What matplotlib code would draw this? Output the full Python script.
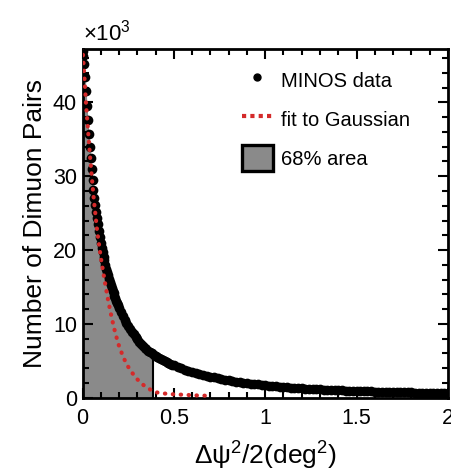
import matplotlib
matplotlib.use("Agg")
import matplotlib.pyplot as plt
from matplotlib.lines import Line2D
from matplotlib.patches import Patch


# dimuon pair counts (in thousands) per bin of dpsi^2/2 (deg^2)
x_data = [0.000, 0.005, 0.010, 0.015, 0.020, 0.025, 0.030, 0.035, 0.040,
          0.045, 0.050, 0.055, 0.060, 0.065, 0.070, 0.075, 0.080, 0.085,
          0.090, 0.095, 0.100, 0.105, 0.110, 0.115, 0.120, 0.125, 0.130,
          0.135, 0.140, 0.145, 0.150, 0.155, 0.160, 0.165, 0.170, 0.175,
          0.180, 0.185, 0.190, 0.195, 0.200,
          0.21, 0.22, 0.23, 0.24, 0.25, 0.26, 0.27, 0.28, 0.29,
          0.30, 0.31, 0.32, 0.33, 0.34, 0.35, 0.36, 0.37, 0.38, 0.39,
          0.40, 0.41, 0.42, 0.43, 0.44, 0.45, 0.46, 0.47, 0.48, 0.49,
          0.50, 0.52, 0.54, 0.56, 0.58, 0.60, 0.62, 0.64, 0.66, 0.68,
          0.70, 0.72, 0.74, 0.76, 0.78, 0.80, 0.82, 0.84, 0.86, 0.88,
          0.90, 0.92, 0.94, 0.96, 0.98, 1.00, 1.02, 1.04, 1.06, 1.08,
          1.10, 1.12, 1.14, 1.16, 1.18, 1.20, 1.22, 1.24, 1.26, 1.28,
          1.30, 1.32, 1.34, 1.36, 1.38, 1.40, 1.42, 1.44, 1.46, 1.48,
          1.50, 1.52, 1.54, 1.56, 1.58, 1.60, 1.62, 1.64, 1.66, 1.68,
          1.70, 1.72, 1.74, 1.76, 1.78, 1.80, 1.82, 1.84, 1.86, 1.88,
          1.90, 1.92, 1.94, 1.96, 1.98, 2.00]
y_data = [47.0, 46.3, 45.2, 43.4, 41.5, 39.5, 37.6, 35.7, 34.0,
          32.4, 31.0, 29.5, 28.2, 27.1, 26.1, 25.2, 24.4, 23.5,
          22.6, 21.8, 21.0, 20.3, 19.7, 19.1, 18.6, 18.0, 17.5,
          17.0, 16.6, 16.1, 15.7, 15.3, 14.9, 14.5, 14.2, 13.8,
          13.5, 13.1, 12.8, 12.5, 12.2,
          11.6, 11.1, 10.6, 10.1, 9.7, 9.3, 8.9, 8.6, 8.25,
          7.9, 7.6, 7.3, 7.05, 6.8, 6.6, 6.4, 6.2, 6.0, 5.85,
          5.7, 5.55, 5.4, 5.25, 5.1, 4.97, 4.85, 4.72, 4.6, 4.5,
          4.4, 4.2, 4.0, 3.8, 3.65, 3.5, 3.35, 3.2, 3.1, 2.95,
          2.85, 2.75, 2.65, 2.55, 2.45, 2.35, 2.27, 2.2, 2.12, 2.05,
          1.98, 1.92, 1.86, 1.8, 1.75, 1.7, 1.65, 1.6, 1.55, 1.5,
          1.46, 1.42, 1.38, 1.35, 1.31, 1.28, 1.25, 1.22, 1.19, 1.16,
          1.13, 1.11, 1.08, 1.06, 1.04, 1.02, 1.0, 0.98, 0.96, 0.94,
          0.92, 0.9, 0.89, 0.87, 0.86, 0.84, 0.83, 0.81, 0.8, 0.79,
          0.77, 0.76, 0.75, 0.74, 0.73, 0.72, 0.71, 0.7, 0.69, 0.68,
          0.67, 0.66, 0.65, 0.64, 0.63, 0.62]

# gaussian fit (in thousands)
x_fit = [0.00, 0.02, 0.04, 0.06, 0.08, 0.10, 0.12, 0.14, 0.16, 0.18,
         0.20, 0.22, 0.24, 0.26, 0.28, 0.30, 0.32, 0.34, 0.36, 0.38,
         0.40, 0.44, 0.48, 0.52, 0.56, 0.60, 0.64, 0.68]
y_fit = [47.5, 39.5, 33.0, 27.3, 22.6, 19.0, 16.0, 13.2, 10.8, 8.7,
         7.0, 5.7, 4.6, 3.8, 3.1, 2.5, 2.0, 1.6, 1.3, 0.95,
         0.75, 0.6, 0.5, 0.45, 0.4, 0.35, 0.3, 0.28]

x_68 = 0.385  # upper edge of the 68% area
y_68 = 5.9

x_ticks = [0, 0.5, 1, 1.5, 2]
x_ticklabels = ["0", "0.5", "1", "1.5", "2"]
y_ticks = [0, 10, 20, 30, 40]
y_ticklabels = ["0", "10", "20", "30", "40"]

RED = "#d42a2a"
GREY = "#8a8a8a"

plt.rcParams["font.family"] = ["Liberation Sans", "DejaVu Sans"]
plt.rcParams["mathtext.fontset"] = "custom"
plt.rcParams["mathtext.rm"] = "Liberation Sans"
plt.rcParams["mathtext.it"] = "Liberation Sans"

fig = plt.figure(figsize=(4.51, 4.73), dpi=100)
ax = fig.add_axes([0.183, 0.159, 0.810, 0.737])

# shaded 68% region under the data
xs = [x for x in x_data if x < x_68] + [x_68]
ys = [y for x, y in zip(x_data, y_data) if x < x_68] + [y_68]
ax.fill_between(xs, 0, ys, color=GREY, lw=0, zorder=1)
ax.vlines(x_68, 0, y_68, color="black", lw=1.5, zorder=2)

ax.plot(x_data, y_data, "o", color="black", ms=7, mew=0, zorder=3)
ax.plot(x_fit, y_fit, color=RED, lw=3, ls=(0, (0.1, 1.8)),
        dash_capstyle="round", zorder=4)

ax.set_xlim(0, 2)
ax.set_ylim(0, 47.2)
ax.set_xticks(x_ticks)
ax.set_xticklabels(x_ticklabels)
ax.set_yticks(y_ticks)
ax.set_yticklabels(y_ticklabels)
ax.set_xticks([i / 10 for i in range(21)], minor=True)
ax.set_yticks(list(range(0, 48, 2)), minor=True)
ax.tick_params(which="both", direction="in", top=True, right=True,
               width=1.5, labelsize=15.5)
ax.tick_params(which="major", length=7)
ax.tick_params(which="minor", length=4)
ax.tick_params(axis="x", pad=7)
ax.tick_params(axis="y", pad=4)
for sp in ax.spines.values():
    sp.set_linewidth(2)

ax.set_xlabel(r"Δψ$\mathregular{^2}$/2(deg$\mathregular{^2}$)",
              fontsize=19, labelpad=8)
ax.set_ylabel("Number of Dimuon Pairs", fontsize=19, labelpad=4)
ax.text(0, 1.012, r"$\times\mathregular{10^3}$", transform=ax.transAxes,
        fontsize=16, ha="left", va="bottom")

handles = [
    Line2D([], [], ls="none", marker="o", color="black", ms=5),
    Line2D([], [], color=RED, lw=3, ls=(0, (1, 1))),
    Patch(facecolor=GREY, edgecolor="black", lw=2.4),
]
labels = ["MINOS data", "fit to Gaussian", "68% area"]
ax.legend(handles, labels, loc="upper right", bbox_to_anchor=(0.945, 1.0),
          frameon=False, fontsize=14.5, handlelength=1.5, handleheight=1.6,
          handletextpad=0.4, labelspacing=0.65)

plt.savefig("out.png", dpi=100)
